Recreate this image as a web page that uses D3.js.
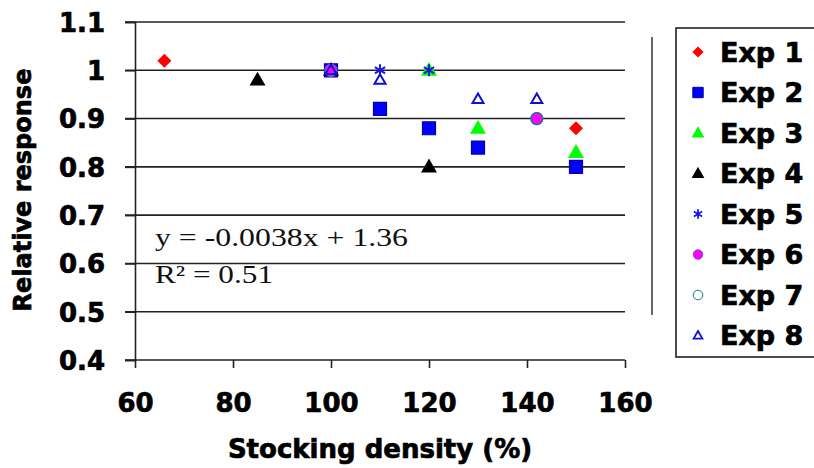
<!DOCTYPE html>
<html>
<head>
<meta charset="utf-8">
<script src="https://cdn.jsdelivr.net/npm/d3@7"></script>
<style>
  body { margin: 0; background: #fff; }
  svg { display: block; }
</style>
</head>
<body>
<svg id="chart" width="814" height="468"></svg>
<script>
// experiment names and their [stocking density %, relative response] points
const experiments = ["Exp 1", "Exp 2", "Exp 3", "Exp 4", "Exp 5", "Exp 6", "Exp 7", "Exp 8"];
const exp1 = [[66, 1.02], [150, 0.88]];
const exp2 = [[100, 1.0], [110, 0.92], [120, 0.88], [130, 0.84], [150, 0.80]];
const exp3 = [[120, 1.0], [130, 0.88], [150, 0.83]];
const exp4 = [[85, 0.98], [100, 1.0], [120, 0.80]];
const exp5 = [[110, 1.0], [120, 1.0]];
const exp6 = [[100, 1.0], [142, 0.90]];
const exp7 = [[142, 0.90]];
const exp8 = [[100, 1.0], [110, 0.98], [130, 0.94], [142, 0.94]];
const xTicks = [60, 80, 100, 120, 140, 160];
const yTicks = [0.4, 0.5, 0.6, 0.7, 0.8, 0.9, 1.0, 1.1];
const regression = ["y = -0.0038x + 1.36", "R² = 0.51"];

const seriesData = [exp1, exp2, exp3, exp4, exp5, exp6, exp7, exp8];
const boldFont = "DejaVu Sans, Verdana, sans-serif";

// marker style per experiment
const markers = [
  { type: "diamond", fill: "#ff0000", stroke: "none" },
  { type: "square", fill: "#0000ff", stroke: "#0000b0" },
  { type: "triangle", fill: "#00ff00", stroke: "none" },
  { type: "triangle", fill: "#000000", stroke: "none" },
  { type: "asterisk", fill: "none", stroke: "#1a1adc" },
  { type: "circle", fill: "#ff00ff", stroke: "#7a5ad0" },
  { type: "circle", fill: "none", stroke: "#138080" },
  { type: "opentriangle", fill: "none", stroke: "#1010d0" }
];

// returns a path for a marker of a given size (half width r)
function markerPath(type, r) {
  if (type === "diamond") {
    return `M0,${-r}L${r},0L0,${r}L${-r},0Z`;
  } else if (type === "square") {
    return `M${-r},${-r}H${r}V${r}H${-r}Z`;
  } else if (type === "triangle" || type === "opentriangle") {
    let h = r * 1.73;
    return `M0,${-h * 0.6}L${r},${h * 0.4}L${-r},${h * 0.4}Z`;
  } else if (type === "asterisk") {
    let a = r * 0.85;
    return `M0,${-r}V${r}M${-a},${-a * 0.6}L${a},${a * 0.6}M${-a},${a * 0.6}L${a},${-a * 0.6}`;
  } else {
    return d3.symbol().type(d3.symbolCircle).size(Math.PI * r * r)();
  }
}

function markerSize(type) {
  if (type === "square") return 6.5;
  if (type === "diamond") return 7;
  if (type === "triangle") return 8;
  if (type === "asterisk") return 6;
  if (type === "circle") return 6;
  return 5.5;
}

// heavy bold text, closer to the thick sans of the original
function heavy(sel, size) {
  sel.style("font-family", boldFont)
    .style("font-weight", "bold")
    .style("font-size", size + "px")
    .attr("fill", "#000")
    .attr("stroke", "#000")
    .attr("stroke-width", 0.7);
}

let svg = d3.select("#chart");

let x = d3.scaleLinear().domain([60, 160]).range([135, 625]);
let y = d3.scaleLinear().domain([0.4, 1.1]).range([360, 22]);

// horizontal gridlines
svg.append("g")
  .selectAll("line")
  .data(yTicks)
  .enter()
  .append("line")
  .attr("x1", x(60) - 10)
  .attr("x2", x(160))
  .attr("y1", (d) => y(d))
  .attr("y2", (d) => y(d))
  .attr("stroke", "#222")
  .attr("stroke-width", 1.6);

// y axis
let yAxis = svg.append("g")
  .attr("transform", "translate(" + x(60) + ",0)")
  .call(d3.axisLeft(y).tickValues(yTicks).tickFormat((d) => d3.format("")(+d.toFixed(1))).tickSize(10).tickPadding(20));
yAxis.select(".domain").attr("stroke", "#222").attr("stroke-width", 1.6);
yAxis.selectAll(".tick line").attr("stroke", "#222").attr("stroke-width", 1.6);

// x axis
let xAxis = svg.append("g")
  .attr("transform", "translate(0," + y(0.4) + ")")
  .call(d3.axisBottom(x).tickValues(xTicks).tickSize(8).tickPadding(26));
xAxis.select(".domain").remove();
xAxis.selectAll(".tick line").attr("stroke", "#222").attr("stroke-width", 1.6);

heavy(svg.selectAll(".tick text"), 26);
yAxis.selectAll(".tick text").attr("dy", "0.36em");

// axis titles
svg.append("text")
  .attr("x", x(110))
  .attr("y", 458)
  .attr("text-anchor", "middle")
  .call(heavy, 26)
  .text("Stocking density (%)");

svg.append("text")
  .attr("transform", "translate(31,190) rotate(-90)")
  .attr("text-anchor", "middle")
  .call(heavy, 24)
  .text("Relative response");

// regression equation
svg.append("g")
  .selectAll("text")
  .data(regression)
  .enter()
  .append("text")
  .attr("x", 155)
  .attr("y", (d, i) => 246 + i * 37)
  .attr("font-family", "Liberation Serif, Times New Roman, serif")
  .attr("font-size", 25)
  .attr("fill", "#111")
  .attr("textLength", (d, i) => (i == 0 ? 253 : 118))
  .attr("lengthAdjust", "spacingAndGlyphs")
  .text((d) => d);

// points
seriesData.forEach((data, i) => {
  let m = markers[i];
  svg.append("g")
    .selectAll("path")
    .data(data)
    .enter()
    .append("path")
    .attr("transform", (d) => "translate(" + x(d[0]) + "," + y(d[1]) + ")")
    .attr("d", markerPath(m.type, markerSize(m.type)))
    .attr("fill", m.fill)
    .attr("stroke", m.stroke)
    .attr("stroke-width", m.type === "asterisk" || m.type === "opentriangle" ? 2 : 1.2);
});

// stray vertical line left of the legend
svg.append("line")
  .attr("x1", 652).attr("x2", 652)
  .attr("y1", 37).attr("y2", 315)
  .attr("stroke", "#333")
  .attr("stroke-width", 1.5);

// legend
let legend = svg.append("g");
legend.append("rect")
  .attr("x", 676)
  .attr("y", 28)
  .attr("width", 200)
  .attr("height", 329)
  .attr("fill", "#fff")
  .attr("stroke", "#222")
  .attr("stroke-width", 1.6);

let items = legend.selectAll(".item")
  .data(experiments)
  .enter()
  .append("g")
  .attr("class", "item")
  .attr("transform", (d, i) => "translate(0," + (52 + i * 40.5) + ")");

items.append("path")
  .attr("transform", "translate(698,0)")
  .attr("d", (d, i) => markerPath(markers[i].type, markerSize(markers[i].type) * 0.8))
  .attr("fill", (d, i) => markers[i].fill)
  .attr("stroke", (d, i) => markers[i].stroke)
  .attr("stroke-width", (d, i) => (markers[i].type === "asterisk" || markers[i].type === "opentriangle" ? 1.8 : 1));

items.append("text")
  .attr("x", 720)
  .attr("dy", "0.36em")
  .call(heavy, 27)
  .text((d) => d);
</script>
</body>
</html>
